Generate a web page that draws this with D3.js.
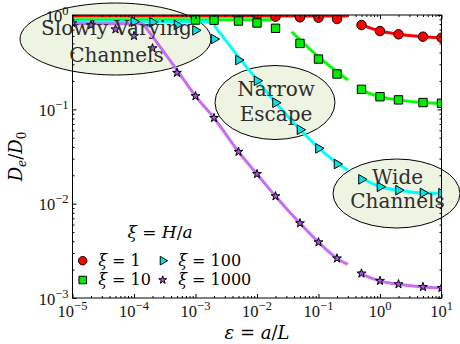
<!DOCTYPE html>
<html lang="en">
<head>
<meta charset="utf-8">
<title>Effective diffusivity vs channel slope</title>
<script src="https://cdn.jsdelivr.net/npm/d3@7"></script>
<style>
  body { margin: 0; background: #fff; }
  svg text { font-family: "DejaVu Serif", serif; white-space: pre; }
  .tick-label { font-family: "Liberation Serif", serif; font-size: 16.5px; fill: #111; }
  .note { font-size: 20px; fill: #2e2e2e; }
</style>
</head>
<body>
<script>
// marker positions, eps = a/L
var epsAll = [1e-5, 2e-5, 5e-5, 1e-4, 2e-4, 5e-4, 1e-3, 2e-3, 5e-3, 1e-2, 2e-2, 5e-2, 0.1, 0.2, 0.5, 1, 2, 5, 10];

// simulated De/D0 per xi (each list lines up with the END of epsAll)
var simXi1    = [1.0, 0.96, 0.945, 0.936, 0.907, 0.783, 0.676, 0.624, 0.589, 0.574];
var simXi10   = [0.885, 0.88, 0.864, 0.823, 0.723, 0.50, 0.341, 0.237, 0.163, 0.136, 0.126, 0.118, 0.116];
var simXi100  = [0.849, 0.837, 0.783, 0.688, 0.556, 0.333, 0.201, 0.1175, 0.0608, 0.0386, 0.0263,
                 0.0181, 0.0151, 0.0139, 0.0130, 0.0129];
var simXi1000 = [0.82, 0.78, 0.705, 0.60, 0.444, 0.244, 0.138, 0.081, 0.0355, 0.0206, 0.012, 0.0062,
                 0.0039, 0.00263, 0.00182, 0.00152, 0.0014, 0.00131, 0.00128];

// asymptotic curves, [eps, De/D0], one list per piece
var theoryXi1 = [
  [[1e-5, 0.976], [0.3, 0.976]],
  [[0.45, 0.80], [0.5, 0.783], [1, 0.676], [2, 0.624], [5, 0.589], [10, 0.574]]
];
var theoryXi10 = [
  [[1e-5, 0.89], [0.018, 0.89]],
  [[0.0366, 0.665], [0.1, 0.36], [0.3, 0.205]],
  [[0.45, 0.172], [0.5, 0.163], [1, 0.136], [2, 0.126], [5, 0.118], [10, 0.116]]
];
var theoryXi100 = [
  [[1e-5, 0.85], [2e-3, 0.85]],
  [[2e-3, 0.78], [5e-3, 0.36], [1e-2, 0.205], [2e-2, 0.118], [5e-2, 0.061], [0.1, 0.039], [0.2, 0.027], [0.3, 0.0227]],
  [[0.45, 0.0195], [1, 0.0151], [2, 0.0139], [5, 0.0130], [10, 0.0129]]
];
var theoryXi1000 = [
  [[1e-5, 0.81], [1.4e-4, 0.81]],
  [[1.4e-4, 0.81], [5e-4, 0.261], [1e-3, 0.138], [2e-3, 0.081], [5e-3, 0.0355], [1e-2, 0.0206],
   [2e-2, 0.012], [5e-2, 0.0062], [0.1, 0.0039], [0.2, 0.00263], [0.3, 0.00227]],
  [[0.45, 0.0019], [0.5, 0.00182], [1, 0.00152], [2, 0.0014], [5, 0.00131], [10, 0.00128]]
];

var xiLabels = ["1", "10", "100", "1000"];

// tick labels (powers of ten)
var xTickExp = [-5, -4, -3, -2, -1, 0, 1];
var yTickExp = [-3, -2, -1, 0];

var W = 460, H = 344;
var margin = {top: 15, right: 18.5, bottom: 46, left: 72.5};

var x = d3.scaleLog().domain([1e-5, 10]).range([margin.left, W - margin.right]);
var y = d3.scaleLog().domain([1e-3, 1]).range([H - margin.bottom, margin.top]);

var series = [
  {sim: simXi1,    theory: theoryXi1,    line: "#ff0000", fill: "#ff0000", sym: d3.symbolCircle,   size: 70, rot: 0},
  {sim: simXi10,   theory: theoryXi10,   line: "#00ff00", fill: "#00ee00", sym: d3.symbolSquare,   size: 70, rot: 0},
  {sim: simXi100,  theory: theoryXi100,  line: "#00ffff", fill: "#00e5e5", sym: d3.symbolTriangle, size: 40, rot: 90},
  {sim: simXi1000, theory: theoryXi1000, line: "#c86ef5", fill: "#a35bdc", sym: d3.symbolStar,     size: 24, rot: 0}
];
series.forEach(function(s, i) {
  s.label = xiLabels[i];
  s.pts = s.sim.map(function(v, j) { return [epsAll[epsAll.length - s.sim.length + j], v]; });
});

var svg = d3.select("body").append("svg").attr("width", W).attr("height", H);

svg.append("defs").append("clipPath").attr("id", "plotClip")
  .append("rect")
  .attr("x", margin.left).attr("y", margin.top)
  .attr("width", W - margin.left - margin.right)
  .attr("height", H - margin.top - margin.bottom);

// annotation bubbles (under everything)
var notes = [
  {cx: 115.5, cy: 39,    rx: 95.5, ry: 36,   lines: ["Slowly Varying", "Channels"], y0: 35,  dy: 27},
  {cx: 275,   cy: 102.5, rx: 60,   ry: 37,   lines: ["Narrow", "Escape"],           y0: 96,  dy: 25},
  {cx: 396.5, cy: 193.5, rx: 63.5, ry: 34.5, lines: ["Wide", "Channels"],           y0: 184, dy: 24}
];
svg.append("g").selectAll("ellipse")
  .data(notes).enter().append("ellipse")
  .attr("cx", function(d) { return d.cx; })
  .attr("cy", function(d) { return d.cy; })
  .attr("rx", function(d) { return d.rx; })
  .attr("ry", function(d) { return d.ry; })
  .attr("fill", "#eef4e2")
  .attr("stroke", "#000")
  .attr("stroke-width", 1);

var plot = svg.append("g").attr("clip-path", "url(#plotClip)");

var line = d3.line()
  .x(function(d) { return x(d[0]); })
  .y(function(d) { return y(d[1]); })
  .curve(d3.curveMonotoneX);

series.forEach(function(s) {
  plot.append("g").selectAll("path")
    .data(s.theory).enter().append("path")
    .attr("d", line)
    .attr("fill", "none")
    .attr("stroke", s.line)
    .attr("stroke-width", 3);
});

series.forEach(function(s) {
  plot.append("g").selectAll("path")
    .data(s.pts).enter().append("path")
    .attr("transform", function(d) {
      return "translate(" + x(d[0]) + "," + y(d[1]) + ") rotate(" + s.rot + ")";
    })
    .attr("d", d3.symbol().type(s.sym).size(s.size))
    .attr("fill", s.fill)
    .attr("stroke", "#000")
    .attr("stroke-width", 1);
});

// frame and inward ticks on all four sides
svg.append("rect")
  .attr("x", margin.left).attr("y", margin.top)
  .attr("width", W - margin.left - margin.right)
  .attr("height", H - margin.top - margin.bottom)
  .attr("fill", "none").attr("stroke", "#000").attr("stroke-width", 1);

var xMajor = xTickExp.map(function(e) { return Math.pow(10, e); });
var yMajor = yTickExp.map(function(e) { return Math.pow(10, e); });
var xMinor = x.ticks().filter(function(v) { return xMajor.every(function(m) { return Math.abs(v / m - 1) > 1e-6; }); });
var yMinor = y.ticks().filter(function(v) { return yMajor.every(function(m) { return Math.abs(v / m - 1) > 1e-6; }); });

function ticks(gen, scale, pos, vals, len) {
  svg.append("g")
    .attr("transform", pos)
    .call(gen(scale).tickValues(vals).tickSize(-len).tickFormat(""))
    .call(function(g) { g.select(".domain").remove(); g.selectAll("line").attr("stroke", "#000"); });
}
[[xMajor, 4], [xMinor, 2]].forEach(function(t) {
  ticks(d3.axisBottom, x, "translate(0," + (H - margin.bottom) + ")", t[0], t[1]);
  ticks(d3.axisTop, x, "translate(0," + margin.top + ")", t[0], t[1]);
});
[[yMajor, 4], [yMinor, 2]].forEach(function(t) {
  ticks(d3.axisLeft, y, "translate(" + margin.left + ",0)", t[0], t[1]);
  ticks(d3.axisRight, y, "translate(" + (W - margin.right) + ",0)", t[0], t[1]);
});

function powLabel(sel, e) {
  sel.append("tspan").text("10");
  sel.append("tspan").attr("dy", -7).attr("font-size", 12.5).text(String(e).replace("-", "\u2212"));
}
svg.append("g").selectAll("text")
  .data(xTickExp).enter().append("text")
  .attr("class", "tick-label")
  .attr("x", function(e) { return x(Math.pow(10, e)); })
  .attr("y", H - margin.bottom + 18.5)
  .attr("text-anchor", "middle")
  .each(function(e) { powLabel(d3.select(this), e); });
svg.append("g").selectAll("text")
  .data(yTickExp).enter().append("text")
  .attr("class", "tick-label")
  .attr("x", margin.left - 4)
  .attr("y", function(e) { return y(Math.pow(10, e)) + 6.5; })
  .attr("text-anchor", "end")
  .each(function(e) { powLabel(d3.select(this), e); });

// bubble text on top
notes.forEach(function(n) {
  svg.append("g").selectAll("text")
    .data(n.lines).enter().append("text")
    .attr("class", "note")
    .attr("x", n.cx + 1)
    .attr("y", function(d, i) { return n.y0 + i * n.dy; })
    .attr("text-anchor", "middle")
    .text(function(d) { return d; });
});

// math-ish text: parts are [string, italic?, dy, size]
function mathText(sel, parts) {
  parts.forEach(function(p) {
    var t = sel.append("tspan").text(p[0]);
    if (p[1]) t.attr("font-style", "italic");
    if (p[2]) t.attr("dy", p[2]);
    if (p[3]) t.attr("font-size", p[3]);
  });
}

// axis labels
mathText(svg.append("text")
  .attr("transform", "translate(22," + ((margin.top + H - margin.bottom) / 2) + ") rotate(-90)")
  .attr("text-anchor", "middle").attr("font-size", 18),
  [["D", true], ["e", true, 4, 12], ["/", false, -4], ["D", true], ["0", false, 4, 12]]);

mathText(svg.append("text")
  .attr("x", (margin.left + W - margin.right) / 2)
  .attr("y", 339)
  .attr("text-anchor", "middle").attr("font-size", 18),
  [["\u03b5", true], [" = "], ["a", true], ["/"], ["L", true]]);

// legend
var legend = svg.append("g").attr("font-size", 16);
mathText(legend.append("text").attr("x", 160).attr("y", 238).attr("text-anchor", "middle").attr("font-size", 17),
  [["\u03be", true], [" = "], ["H", true], ["/"], ["a", true]]);

var legendPos = [[82.7, 260.7], [82.7, 280], [162.7, 260.7], [162.7, 280]];
series.forEach(function(s, i) {
  var p = legendPos[i];
  legend.append("path")
    .attr("transform", "translate(" + p[0] + "," + p[1] + ") rotate(" + s.rot + ")")
    .attr("d", d3.symbol().type(s.sym).size(s.size * 0.8))
    .attr("fill", s.fill)
    .attr("stroke", "#000")
    .attr("stroke-width", 1);
  mathText(legend.append("text").attr("x", p[0] + 15.5).attr("y", p[1] + 5),
    [["\u03be", true], [" = " + s.label]]);
});
</script>
</body>
</html>
